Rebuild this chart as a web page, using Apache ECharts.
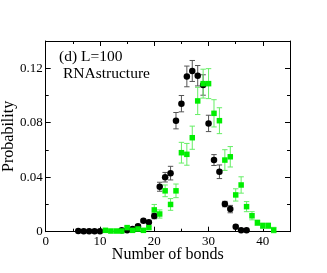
<!DOCTYPE html>
<html><head><meta charset="utf-8">
<script src="https://cdn.jsdelivr.net/npm/echarts@6/dist/echarts.min.js"></script>
<style>html,body{margin:0;padding:0;background:#fff}#c{width:327px;height:273px}</style>
</head><body><div id="c"></div>
<script>
const blackX = [6,7,8,9,10,14,15,16,17,18,19,20,21,22,23,24,25,26,27,28,29,30,31,32,33,34,35,36,37];
const blackY = [0.0005,0.0003,0.0003,0.0003,0.0003,0.001,0.001,0.002,0.004,0.008,0.007,0.0115,0.033,0.040,0.043,0.0815,0.094,0.114,0.118,0.1145,0.1077,0.0795,0.0526,0.044,0.0203,0.0166,0.0037,0.001,0.001];
const blackErr = [0,0,0,0,0,0.0005,0.0005,0.0007,0.001,0.001,0.001,0.002,0.0033,0.0035,0.005,0.006,0.006,0.0076,0.0077,0.0075,0.0075,0.006,0.004,0.005,0.002,0.0027,0.001,0.0005,0.0005];
const greenX = [11,12,13,14,15,16,17,18,19,20,21,22,23,24,25,26,27,28,29,30,31,32,33,34,35,36,37,38,39,40,41,42];
const greenY = [0.001,0.0005,0.0005,0.0005,0.003,0.001,0.002,0.001,0.003,0.016,0.013,0.030,0.020,0.030,0.058,0.0568,0.069,0.096,0.1087,0.1087,0.0869,0.0815,0.0526,0.055,0.027,0.0343,0.0184,0.0117,0.0066,0.0044,0.0044,0.0012];
const greenErr = [0.0005,0.0005,0.0005,0.0005,0.001,0.0007,0.001,0.0007,0.001,0.004,0.003,0.0043,0.0043,0.005,0.0076,0.008,0.0085,0.01,0.0106,0.011,0.01,0.0095,0.0076,0.0075,0.0045,0.006,0.0037,0.003,0.002,0.002,0.002,0.002];
const xTicks = [0,10,20,30,40];
const yTickLabels = ['0','0.04','0.08','0.12'];

const FONT = 'Liberation Serif';
function pts(xs, ys){ return xs.map((x,i)=>[x, ys[i]]); }
function errData(xs, ys, es){ return xs.map((x,i)=>[x, ys[i]-es[i], ys[i]+es[i]]); }
function errSeries(data, color){
  return {
    type:'custom', data: data, silent:true, z:2,
    renderItem: function(params, api){
      const x = api.value(0);
      const lo = api.coord([x, api.value(1)]);
      const hi = api.coord([x, api.value(2)]);
      const w = 2.7;
      const st = {stroke: color, lineWidth: 1};
      return {type:'group', children:[
        {type:'line', shape:{x1:lo[0],y1:lo[1],x2:hi[0],y2:hi[1]}, style:st},
        {type:'line', shape:{x1:lo[0]-w,y1:lo[1],x2:lo[0]+w,y2:lo[1]}, style:st},
        {type:'line', shape:{x1:hi[0]-w,y1:hi[1],x2:hi[0]+w,y2:hi[1]}, style:st}
      ]};
    },
    encode:{x:0, y:[1,2]}
  };
}
const axLine = {show:true, onZero:false, lineStyle:{color:'#000', width:1}};
const chart = echarts.init(document.getElementById('c'), null, {renderer:'canvas'});
chart.setOption({
  animation:false,
  grid:{left:45.7, right:37, top:41, bottom:41.3, containLabel:false, outerBoundsMode:'none'},
  textStyle:{fontFamily:FONT},
  xAxis:[{
    type:'value', min:0, max:45, interval:10, position:'bottom',
    name:'Number of bonds', nameLocation:'middle', nameGap:15, nameMoveOverlap:false,
    nameTextStyle:{fontFamily:FONT, fontSize:16, color:'#000'},
    axisLine:axLine, splitLine:{show:false},
    axisTick:{inside:true, length:5, lineStyle:{color:'#000'}},
    minorTick:{show:true, splitNumber:2, length:3, lineStyle:{color:'#000'}},
    axisLabel:{fontFamily:FONT, fontSize:13, color:'#000', margin:3, showMaxLabel:false,
      formatter:function(v){ return xTicks.indexOf(v)>=0 ? String(v) : ''; }}
  },{
    type:'value', min:0, max:45, interval:10, position:'top',
    axisLine:axLine, splitLine:{show:false},
    axisTick:{inside:true, length:5, lineStyle:{color:'#000'}},
    minorTick:{show:true, splitNumber:2, length:3, lineStyle:{color:'#000'}},
    axisLabel:{show:false}
  }],
  yAxis:[{
    type:'value', min:0, max:0.14, interval:0.04, position:'left',
    name:'Probability', nameLocation:'middle', nameGap:29, nameMoveOverlap:false,
    nameTextStyle:{fontFamily:FONT, fontSize:16, color:'#000'},
    axisLine:axLine, splitLine:{show:false},
    axisTick:{inside:true, length:5, lineStyle:{color:'#000'}},
    minorTick:{show:true, splitNumber:2, length:3, lineStyle:{color:'#000'}},
    axisLabel:{fontFamily:FONT, fontSize:13, color:'#000', margin:3, showMaxLabel:false,
      formatter:function(v){ const i = Math.round(v/0.04); return (Math.abs(v-i*0.04)<1e-9 && yTickLabels[i]!==undefined) ? yTickLabels[i] : ''; }}
  },{
    type:'value', min:0, max:0.14, interval:0.04, position:'right',
    axisLine:axLine, splitLine:{show:false},
    axisTick:{inside:true, length:5, lineStyle:{color:'#000'}},
    minorTick:{show:true, splitNumber:2, length:3, lineStyle:{color:'#000'}},
    axisLabel:{show:false}
  }],
  graphic:[
    {type:'text', left:59, top:49, style:{text:'(d) L=100', font:'15.5px "Liberation Serif"', fill:'#000'}},
    {type:'text', left:63, top:66, style:{text:'RNAstructure', font:'15.5px "Liberation Serif"', fill:'#000'}}
  ],
  series:[
    errSeries(errData(blackX, blackY, blackErr), '#555555'),
    {type:'scatter', data:pts(blackX, blackY), symbol:'circle', symbolSize:6.5, z:3,
      itemStyle:{color:'#000', opacity:1}},
    errSeries(errData(greenX, greenY, greenErr), '#66ee66'),
    {type:'scatter', data:pts(greenX, greenY), symbol:'rect', symbolSize:5.5, z:5,
      itemStyle:{color:'#00ee00', opacity:1}}
  ]
});
</script></body></html>
